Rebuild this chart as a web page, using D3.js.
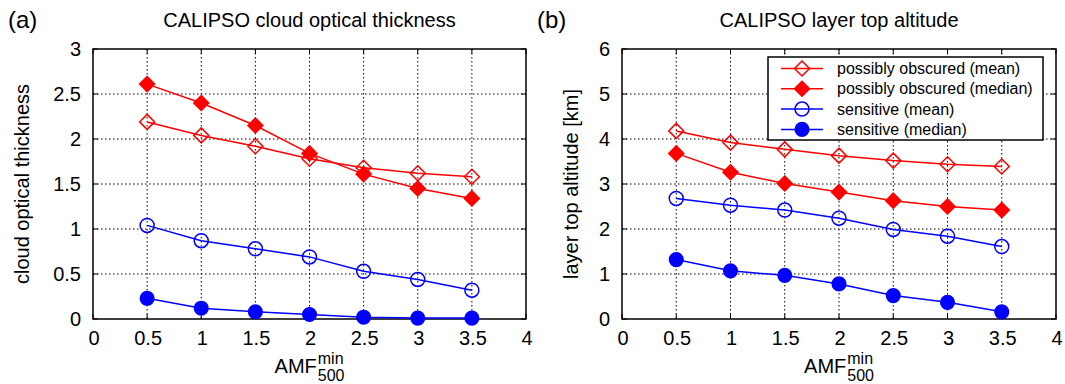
<!DOCTYPE html>
<html>
<head>
<meta charset="utf-8">
<script src="https://cdn.jsdelivr.net/npm/d3@7"></script>
<style>
  html, body { margin: 0; padding: 0; background: #fff; }
  svg { display: block; }
  text { font-family: "Liberation Sans", Arial, Helvetica, sans-serif; fill: #000; }
</style>
</head>
<body>
<svg id="fig" width="1065" height="384"></svg>
<script>
// x positions (minimum 500 nm air-mass factor threshold)
const amf = [0.5, 1, 1.5, 2, 2.5, 3, 3.5];

// (a) CALIPSO cloud optical thickness
const cotObscuredMean   = [2.19, 2.04, 1.92, 1.78, 1.68, 1.62, 1.58];
const cotObscuredMedian = [2.61, 2.40, 2.15, 1.84, 1.61, 1.45, 1.34];
const cotSensitiveMean   = [1.04, 0.87, 0.78, 0.69, 0.53, 0.44, 0.32];
const cotSensitiveMedian = [0.23, 0.12, 0.08, 0.05, 0.02, 0.01, 0.01];

// (b) CALIPSO layer top altitude [km]
const altObscuredMean   = [4.18, 3.92, 3.77, 3.63, 3.52, 3.44, 3.39];
const altObscuredMedian = [3.68, 3.26, 3.01, 2.82, 2.63, 2.50, 2.42];
const altSensitiveMean   = [2.68, 2.53, 2.42, 2.24, 1.99, 1.84, 1.61];
const altSensitiveMedian = [1.32, 1.07, 0.97, 0.78, 0.52, 0.37, 0.16];

// axis ticks
const xTicks = [0, 0.5, 1, 1.5, 2, 2.5, 3, 3.5, 4];
const cotTicks = [0, 0.5, 1, 1.5, 2, 2.5, 3];
const altTicks = [0, 1, 2, 3, 4, 5, 6];

const legendLabels = [
  "possibly obscured (mean)",
  "possibly obscured (median)",
  "sensitive (mean)",
  "sensitive (median)"
];
const seriesStyle = [
  { color: "#ff0000", shape: "diamond", filled: false },
  { color: "#ff0000", shape: "diamond", filled: true },
  { color: "#0000ff", shape: "circle", filled: false },
  { color: "#0000ff", shape: "circle", filled: true }
];

const svg = d3.select("#fig");

function drawMarker(g, cx, cy, st) {
  if (st.shape === "diamond") {
    const h = 7.5;
    g.append("path")
      .attr("d", `M${cx},${cy - h}L${cx + h},${cy}L${cx},${cy + h}L${cx - h},${cy}Z`)
      .attr("fill", st.filled ? st.color : "none")
      .attr("stroke", st.color)
      .attr("stroke-width", 1.5);
  } else {
    g.append("circle")
      .attr("cx", cx).attr("cy", cy)
      .attr("r", st.filled ? 6.8 : 7)
      .attr("fill", st.filled ? st.color : "none")
      .attr("stroke", st.color)
      .attr("stroke-width", 1.5);
  }
}

function panel(opts) {
  const { left, right, top, bottom, yMax, yTicks, series, title, tag, ylabel, ylabelX } = opts;
  const x = d3.scaleLinear().domain([0, 4]).range([left, right]);
  const y = d3.scaleLinear().domain([0, yMax]).range([bottom, top]);
  const g = svg.append("g");

  // dotted grid
  const grid = g.append("g").attr("stroke", "#000").attr("stroke-width", 1)
    .attr("stroke-dasharray", "1.5,2.5");
  xTicks.slice(1, -1).forEach(t => {
    grid.append("line").attr("x1", x(t)).attr("x2", x(t)).attr("y1", top).attr("y2", bottom);
  });
  yTicks.slice(1, -1).forEach(t => {
    grid.append("line").attr("x1", left).attr("x2", right).attr("y1", y(t)).attr("y2", y(t));
  });

  // inward ticks on all four sides
  const tk = g.append("g").attr("stroke", "#000").attr("stroke-width", 1);
  const tl = 5;
  xTicks.forEach(t => {
    tk.append("line").attr("x1", x(t)).attr("x2", x(t)).attr("y1", bottom).attr("y2", bottom - tl);
    tk.append("line").attr("x1", x(t)).attr("x2", x(t)).attr("y1", top).attr("y2", top + tl);
  });
  yTicks.forEach(t => {
    tk.append("line").attr("x1", left).attr("x2", left + tl).attr("y1", y(t)).attr("y2", y(t));
    tk.append("line").attr("x1", right).attr("x2", right - tl).attr("y1", y(t)).attr("y2", y(t));
  });

  // frame
  g.append("rect").attr("x", left).attr("y", top)
    .attr("width", right - left).attr("height", bottom - top)
    .attr("fill", "none").attr("stroke", "#000").attr("stroke-width", 1.5);

  // tick labels through the scales
  xTicks.forEach(t => {
    g.append("text").attr("x", x(t) + 1).attr("y", bottom + 26)
      .attr("text-anchor", "middle").attr("font-size", 20)
      .text(d3.format("~g")(t));
  });
  yTicks.forEach(t => {
    g.append("text").attr("x", left - 12).attr("y", y(t) + 7)
      .attr("text-anchor", "end").attr("font-size", 20)
      .text(d3.format("~g")(t));
  });

  // data
  const line = d3.line().x((d, i) => x(amf[i])).y(d => y(d));
  series.forEach((vals, k) => {
    const st = seriesStyle[k];
    g.append("path").datum(vals).attr("d", line)
      .attr("fill", "none").attr("stroke", st.color).attr("stroke-width", 1.5);
    vals.forEach((v, i) => drawMarker(g, x(amf[i]), y(v), st));
  });

  // titles and labels
  g.append("text").attr("x", (left + right) / 2).attr("y", 27)
    .attr("text-anchor", "middle").attr("font-size", 20).text(title);
  g.append("text").attr("x", left - 85).attr("y", 28)
    .attr("font-size", 24).text(tag);
  g.append("text")
    .attr("transform", `translate(${ylabelX},${(top + bottom) / 2}) rotate(-90)`)
    .attr("text-anchor", "middle").attr("font-size", 20).text(ylabel);

  // AMF with sub/superscript, centred under the axis
  const lab = g.append("g");
  const base = lab.append("text").attr("x", 0).attr("y", 0).attr("font-size", 20).text("AMF");
  const w0 = base.node().getComputedTextLength();
  const sup = lab.append("text").attr("x", w0 + 1).attr("y", -9).attr("font-size", 16).text("min");
  const sub = lab.append("text").attr("x", w0 + 1).attr("y", 8).attr("font-size", 16).text("500");
  const w1 = Math.max(sup.node().getComputedTextLength(), sub.node().getComputedTextLength());
  const total = w0 + 1 + w1;
  lab.attr("transform", `translate(${(left + right) / 2 - total / 2},373)`);

  return { x, y, g };
}

panel({
  left: 93, right: 526, top: 49, bottom: 319, yMax: 3, yTicks: cotTicks,
  series: [cotObscuredMean, cotObscuredMedian, cotSensitiveMean, cotSensitiveMedian],
  title: "CALIPSO cloud optical thickness", tag: "(a)",
  ylabel: "cloud optical thickness", ylabelX: 29
});

panel({
  left: 622, right: 1056, top: 49, bottom: 319, yMax: 6, yTicks: altTicks,
  series: [altObscuredMean, altObscuredMedian, altSensitiveMean, altSensitiveMedian],
  title: "CALIPSO layer top altitude", tag: "(b)",
  ylabel: "layer top altitude [km]", ylabelX: 578
});

// legend in panel (b)
const lg = svg.append("g");
lg.append("rect").attr("x", 768).attr("y", 57).attr("width", 275).attr("height", 83)
  .attr("fill", "#fff").attr("stroke", "#000").attr("stroke-width", 1.5);
legendLabels.forEach((lab, k) => {
  const cy = 68.5 + k * 20.3;
  const st = seriesStyle[k];
  lg.append("line").attr("x1", 781).attr("x2", 823).attr("y1", cy).attr("y2", cy)
    .attr("stroke", st.color).attr("stroke-width", 1.5);
  drawMarker(lg, 802, cy, st);
  lg.append("text").attr("x", 837).attr("y", cy + 5.5).attr("font-size", 16).text(lab);
});
</script>
</body>
</html>
